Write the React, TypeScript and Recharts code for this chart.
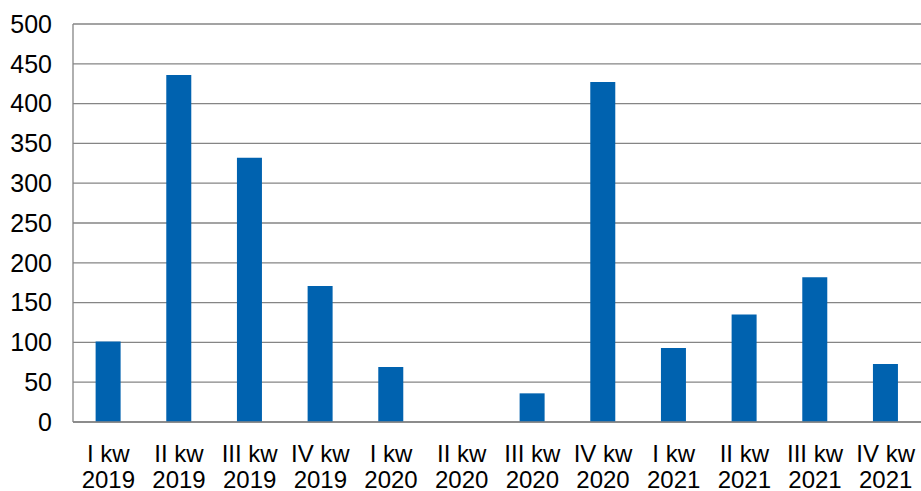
import { BarChart, Bar, XAxis, YAxis, CartesianGrid } from "recharts";

const quarters = ["I kw", "II kw", "III kw", "IV kw", "I kw", "II kw", "III kw", "IV kw", "I kw", "II kw", "III kw", "IV kw"];
const years = ["2019", "2019", "2019", "2019", "2020", "2020", "2020", "2020", "2021", "2021", "2021", "2021"];
const values = [101, 436, 332, 171, 69, 0, 36, 427, 93, 135, 182, 73];
const yTicks = [0, 50, 100, 150, 200, 250, 300, 350, 400, 450, 500];

const data = values.map((v, i) => ({ key: `${quarters[i]} ${years[i]}`, q: quarters[i], y: years[i], value: v }));

const FONT = "'Liberation Sans', Arial, sans-serif";

function QuarterTick(props: any) {
  const { x, y, index } = props;
  return (
    <text x={x} textAnchor="middle" fontFamily={FONT} fontSize={24} fill="#000">
      <tspan x={x} y={y + 38}>{quarters[index]}</tspan>
      <tspan x={x} y={y + 64}>{years[index]}</tspan>
    </text>
  );
}

export default function App() {
  return (
    <div style={{ position: "absolute", left: 0, top: 0, background: "#fff" }}>
      <BarChart width={921} height={491} data={data} margin={{ top: 24, right: 0, bottom: 0, left: 0 }} barCategoryGap="32%">
        <CartesianGrid vertical={false} stroke="#858585" strokeWidth={1.3} />
        <XAxis
          dataKey="key"
          interval={0}
          height={69}
          tickLine={false}
          tickSize={0}
          axisLine={{ stroke: "#858585", strokeWidth: 1.3 }}
          tick={<QuarterTick />}
        />
        <YAxis
          width={73}
          domain={[0, 500]}
          ticks={yTicks}
          interval={0}
          tickLine={false}
          tickSize={0}
          tickMargin={21}
          axisLine={{ stroke: "#858585", strokeWidth: 1.3 }}
          tick={{ fontFamily: FONT, fontSize: 25, fill: "#000" }}
        />
        <Bar dataKey="value" fill="#0062AF" isAnimationActive={false} />
      </BarChart>
    </div>
  );
}
